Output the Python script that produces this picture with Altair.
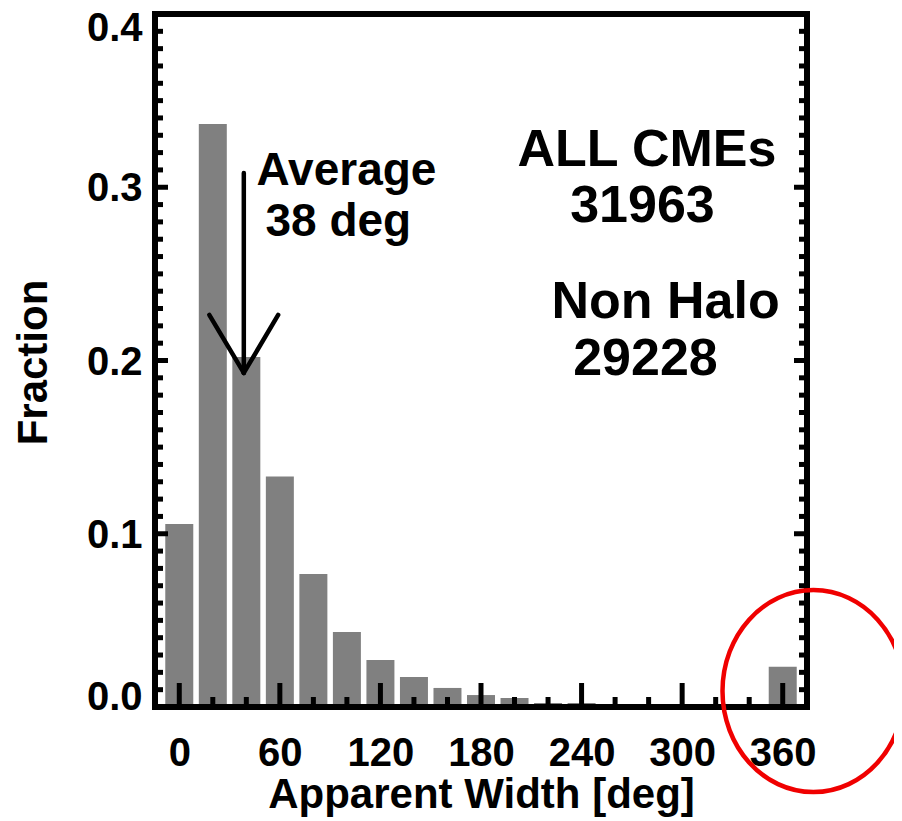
import altair as alt
import pandas as pd

# ---------------- data ----------------
bin_centers = [0, 20, 40, 60, 80, 100, 120, 140, 160, 180, 200, 220, 240,
               260, 280, 300, 320, 340, 360]
fractions = [0.1056, 0.3365, 0.202, 0.133, 0.0768, 0.0433, 0.0271, 0.0173,
             0.011, 0.0069, 0.0052, 0.0023, 0.0023, 0.0, 0.0, 0.0, 0.0, 0.0,
             0.0233]

x_major = [0, 60, 120, 180, 240, 300, 360]
x_minor = [20, 40, 80, 100, 140, 160, 200, 220, 260, 280, 320, 340]
y_major = [0.0, 0.1, 0.2, 0.3, 0.4]
y_minor = [round(i * 0.01, 2) for i in range(41) if i % 10 != 0]

# arrow marking the average width (38 deg)
arrow_x = [38.5, 17.9, 59.0]
arrow_y = [0.3082, 0.2263, 0.2263]
arrow_x2 = [38.5, 38.5, 38.5]
arrow_y2 = [0.1928, 0.1928, 0.1928]

avg_text = ["Average", "38 deg"]
avg_x = [46.1, 51.4]
avg_y = [0.3013, 0.2719]

info_text = ["ALL CMEs", "31963", "Non Halo", "29228"]
info_x = [279.0, 276.3, 290.1, 278.1]
info_y = [0.3123, 0.2799, 0.2245, 0.1916]

# red highlight ellipse around the 360 deg (halo) bin
circle_x = [378.3]
circle_y = [0.0092]

# ---------------- chart ----------------
W, H = 652, 693
FONT = "Liberation Sans"

xs = alt.Scale(domain=[-11.5, 371.5], nice=False, zero=False)
ys = alt.Scale(domain=[0, 0.4], nice=False, zero=False)

xaxis = alt.Axis(values=x_major, ticks=False, tickSize=0, domain=False, grid=False,
                 labelFont=FONT, labelFontSize=40, labelFontWeight="bold",
                 labelColor="black", labelPadding=26, labelFlush=False,
                 title="Apparent Width [deg]", titleFont=FONT,
                 titleFontSize=42, titleFontWeight="bold", titleColor="black",
                 titleX=W / 2, titleY=100, titleBaseline="alphabetic",
                 titleAlign="center")
yaxis = alt.Axis(values=y_major, format=".1f", ticks=False, tickSize=0,
                 domain=False, grid=False,
                 labelFont=FONT, labelFontSize=40, labelFontWeight="bold",
                 labelColor="black", labelPadding=13, labelFlush=False,
                 labelBaseline="middle",
                 labelOffset={"condition": [
                     {"test": "datum.value <= 0.001", "value": -10},
                     {"test": "datum.value >= 0.399", "value": 14}],
                     "value": 1.5},
                 title="Fraction", titleFont=FONT, titleFontSize=42,
                 titleFontWeight="bold", titleColor="black",
                 titleX=-121.6, titleY=348, titleAngle=270,
                 titleBaseline="middle", titleAlign="center")


def X(f):
    return alt.X(f, scale=xs, axis=xaxis, title="Apparent Width [deg]")


def Y(f):
    return alt.Y(f, scale=ys, axis=yaxis, title="Fraction")


bars_df = pd.DataFrame({"width": bin_centers, "frac": fractions})
bars = alt.Chart(bars_df).mark_bar(color="#808080", size=28).encode(
    x=X("width:Q"), y=Y("frac:Q"))

arrow_df = pd.DataFrame({"x": arrow_x, "y": arrow_y, "x2": arrow_x2, "y2": arrow_y2})
arrow = alt.Chart(arrow_df).mark_rule(color="black", strokeWidth=4.5,
                                      strokeCap="round").encode(
    x=X("x:Q"), y=Y("y:Q"), x2="x2:Q", y2="y2:Q")

avg_df = pd.DataFrame({"t": avg_text, "x": avg_x, "y": avg_y})
avg = alt.Chart(avg_df).mark_text(align="left", baseline="alphabetic", font=FONT,
                                  fontSize=46, fontWeight="bold", color="black").encode(
    x=X("x:Q"), y=Y("y:Q"), text="t:N")

info_df = pd.DataFrame({"t": info_text, "x": info_x, "y": info_y})
info = alt.Chart(info_df).mark_text(align="center", baseline="alphabetic", font=FONT,
                                    fontSize=52, fontWeight="bold", color="black").encode(
    x=X("x:Q"), y=Y("y:Q"), text="t:N")

TW = 5


def hticks(vals, x0, x1):
    return alt.Chart(pd.DataFrame({"v": vals})).mark_rule(
        color="black", strokeWidth=TW).encode(
        y=Y("v:Q"), x=alt.value(x0), x2=alt.value(x1))


def vticks(vals, ln):
    return alt.Chart(pd.DataFrame({"v": vals})).mark_rule(
        color="black", strokeWidth=TW).encode(
        x=X("v:Q"), y=alt.value(H), y2=alt.value(H - ln))


ticks = [
    hticks(y_major, 0, 13), hticks(y_minor, 0, 8),
    hticks(y_major, W, W - 13), hticks(y_minor, W, W - 8),
    vticks(x_major, 24), vticks(x_minor, 10),
]

frame_df = pd.DataFrame({"k": [0]})
FW = 6


def frame_rule(x0, x1, y0, y1):
    return alt.Chart(frame_df).mark_rule(color="black", strokeWidth=FW,
                                         strokeCap="square").encode(
        x=alt.value(x0), x2=alt.value(x1), y=alt.value(y0), y2=alt.value(y1))


frame = [frame_rule(0, 0, 0, H), frame_rule(W, W, 0, H),
         frame_rule(0, W, 0, 0), frame_rule(0, W, H, H)]

ellipse_path = ("M 0.9 0 C 0.9 0.5523 0.4971 1 0 1 C -0.4971 1 -0.9 0.5523 -0.9 0 "
                "C -0.9 -0.5523 -0.4971 -1 0 -1 C 0.4971 -1 0.9 -0.5523 0.9 0 Z")
circ_df = pd.DataFrame({"x": circle_x, "y": circle_y})
circle = alt.Chart(circ_df).mark_point(shape=ellipse_path, size=40804, filled=False,
                                       stroke="#f00000", strokeWidth=4.5,
                                       opacity=1, clip=False).encode(
    x=X("x:Q"), y=Y("y:Q"))

chart = alt.layer(bars, arrow, avg, info, *ticks, *frame, circle).properties(
    width=W, height=H,
    autosize=alt.AutoSizeParams(type="none"),
    padding={"left": 147, "top": 6, "right": 87, "bottom": 112},
).configure_view(stroke=None).configure(background="white")

chart.save("out.html", embed_options={"renderer": "svg", "actions": False})
